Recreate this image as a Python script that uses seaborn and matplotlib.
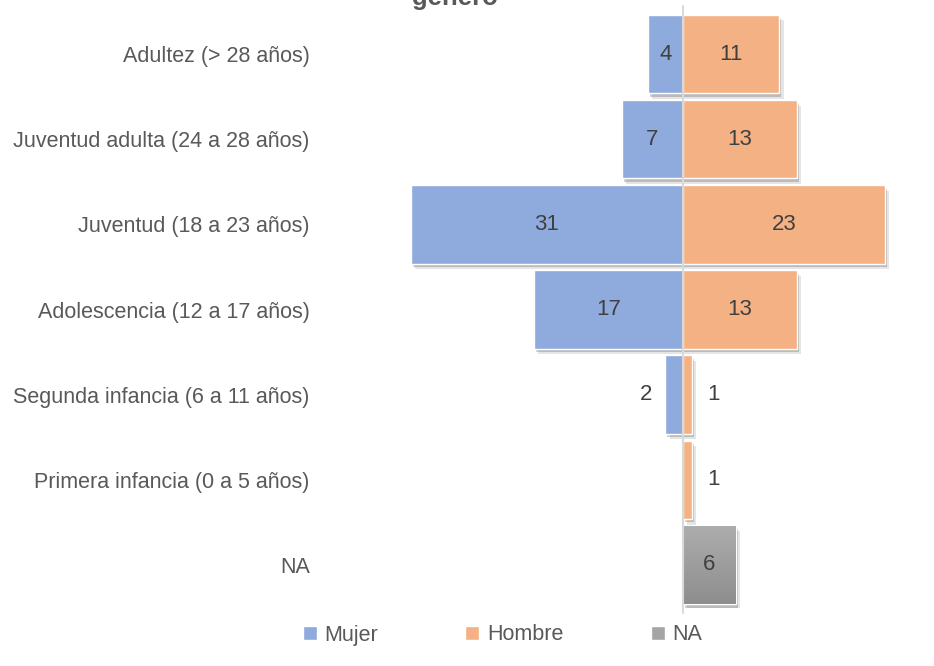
import numpy as np
import pandas as pd
import matplotlib.pyplot as plt
import matplotlib.patheffects as pe
from matplotlib.colors import LinearSegmentedColormap
from matplotlib.patches import Patch
import seaborn as sns

# Data
grupos = ["Adultez (> 28 años)", "Juventud adulta (24 a 28 años)", "Juventud (18 a 23 años)",
          "Adolescencia (12 a 17 años)", "Segunda infancia (6 a 11 años)",
          "Primera infancia (0 a 5 años)", "NA"]
mujer = [4, 7, 31, 17, 2, 0, 0]
hombre = [11, 13, 23, 13, 1, 1, 0]
na = [0, 0, 0, 0, 0, 0, 6]
series = ["Mujer", "Hombre", "NA"]
colores = ["#8FAADC", "#F4B183", "#A5A5A5"]

rows = []
for g, m, h, n in zip(grupos, mujer, hombre, na):
    if m:
        rows.append((g, "Mujer", -m))
    if h:
        rows.append((g, "Hombre", h))
    if n:
        rows.append((g, "NA", n))
df = pd.DataFrame(rows, columns=["grupo", "sexo", "valor"])

sns.set_style("white")
plt.rcParams["font.family"] = ["Liberation Sans", "DejaVu Sans"]

fig = plt.figure(figsize=(9.34, 6.66), dpi=100)
ax = fig.add_axes([332 / 934, 1 - 607.5 / 666, (911 - 332) / 934, 596 / 666])

sns.barplot(data=df, x="valor", y="grupo", hue="sexo", order=grupos, hue_order=series,
            palette=colores, dodge=False, width=0.92, orient="h", ax=ax,
            legend=False, saturation=1)

ax.axvline(0, color="#D9D9D9", lw=1.5, zorder=5, ymin=-0.01, ymax=1.01, clip_on=False)

# soft shadows like Excel
for p in ax.patches:
    p.set_path_effects([pe.SimplePatchShadow(offset=(3, -4), shadow_rgbFace="#000000", alpha=0.10),
                        pe.SimplePatchShadow(offset=(1.5, -2.5), shadow_rgbFace="#000000", alpha=0.18),
                        pe.Normal()])

# gray gradient for NA bar
grad = LinearSegmentedColormap.from_list("gris", ["#ADADAD", "#8E8E8E"])
for bar in ax.containers[2]:
    w = bar.get_width()
    if w != w or w == 0:
        continue
    x0, y0, h = bar.get_x(), bar.get_y(), bar.get_height()
    im = ax.imshow(np.linspace(0, 1, 100).reshape(-1, 1), cmap=grad, aspect="auto",
                   extent=[x0, x0 + w, y0 + h, y0], zorder=bar.get_zorder() + 0.1)
    im.set_clip_path(bar)
ax.set_xlim(-40, 26)
ax.set_ylim(6.5, -0.5)

# value labels
for cont in ax.containers:
    for bar in cont:
        w = bar.get_width()
        if w != w or w == 0:
            continue
        v = abs(int(round(w)))
        yc = bar.get_y() + bar.get_height() / 2
        if v >= 3:
            xc = bar.get_x() + w / 2
        else:
            xc = w - 2.2 if w < 0 else w + 2.5
        ax.text(xc, yc, str(v), ha="center", va="center", fontsize=16, color="#404040", zorder=6)

for s in ax.spines.values():
    s.set_visible(False)
ax.set_xticks([])
ax.set_xlabel("")
ax.set_ylabel("")
ax.tick_params(axis="y", length=0, pad=16, labelsize=15.5, labelcolor="#595959")

fig.text(0.487, 1 - 5 / 666, "género", ha="center", va="baseline", fontsize=18.5,
         fontweight="bold", color="#595959")

handles = [Patch(facecolor=c, label=s) for s, c in zip(series, colores)]
fig.legend(handles=handles, loc="center", bbox_to_anchor=(0.538, 1 - 635 / 666), ncol=3,
           frameon=False, fontsize=15.5, handlelength=0.65, handleheight=0.65,
           handletextpad=0.35, columnspacing=4.05, labelcolor="#595959")

fig.savefig("out.png", dpi=100)
